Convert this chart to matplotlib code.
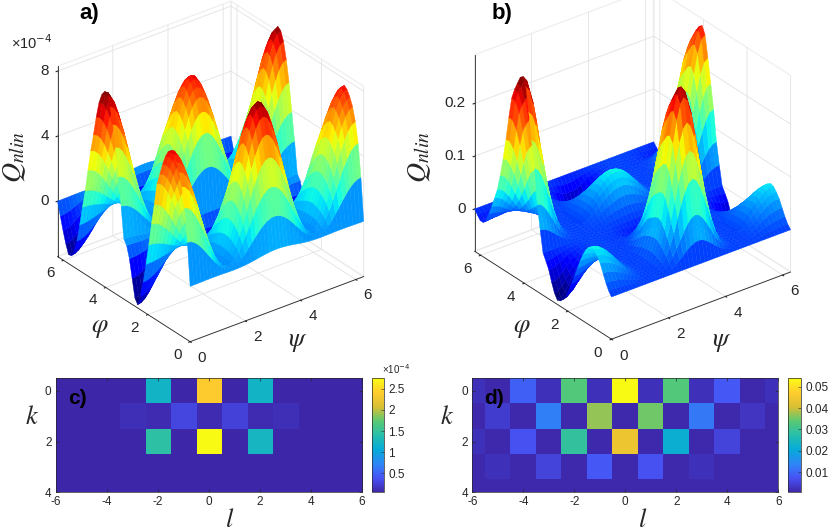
import numpy as np
import matplotlib
matplotlib.use("Agg")
import matplotlib.pyplot as plt
from matplotlib.colors import LinearSegmentedColormap, Normalize

plt.rcParams['font.family'] = ['Liberation Sans', 'DejaVu Sans']
plt.rcParams['mathtext.fontset'] = 'stix'

W, H = 830, 532
INK = '#262626'

# Q along the psi = 0 edge, every 7.5 degrees of phi
edge_a = [0, 2.6, 4.6, 5.8, 6.6, 7.1, 7.45, 7.6, 7.4, 7.0, 6.4, 5.7, 5.0, 3.6, 2.3, 0.9, -0.4,
          -1.6, -2.6, -3.2, -2.9, -1.8, -0.7, 0, 0.3, 2.2, 3.9, 5.6, 6.9, 7.9, 8.45, 8.6, 8.3,
          7.7, 6.7, 5.5, 4.4, 3.1, 1.7, 0.6, -0.6, -1.7, -2.4, -2.8, -2.85, -2.3, -1.6, -0.8, 0]
edge_b = [0, 0.008, 0.02, 0.035, 0.05, 0.06, 0.068, 0.07, 0.066, 0.058, 0.045, 0.03, 0.012, -0.006,
          -0.024, -0.04, -0.054, -0.064, -0.07, -0.072, -0.062, -0.045, -0.025, -0.012, 0, 0.04,
          0.085, 0.15, 0.2, 0.25, 0.295, 0.31, 0.305, 0.29, 0.275, 0.255, 0.215, 0.17, 0.13, 0.095,
          0.065, 0.045, 0.025, 0.008, -0.008, -0.015, -0.015, -0.008, 0]

# how the ridges fade along psi, 0 to pi (same steps), estimated from the peak shapes
fade_a = [1, 0.983, 0.933, 0.854, 0.75, 0.63, 0.5, 0.37, 0.25, 0.146, 0.067, 0.017, 0,
          0.017, 0.067, 0.146, 0.25, 0.37, 0.5, 0.63, 0.75, 0.854, 0.933, 0.983, 1]
fade_b = [1, 0.969, 0.882, 0.752, 0.597, 0.44, 0.296, 0.18, 0.097, 0.044, 0.016, 0.003, 0,
          0.003, 0.016, 0.044, 0.097, 0.18, 0.296, 0.44, 0.597, 0.752, 0.882, 0.969, 1]
swap_a = [1, 0.973, 0.901, 0.789, 0.65, 0.499, 0.354, 0.226, 0.125, 0.056, 0.017, 0.002, 0,
          -0.002, -0.017, -0.056, -0.125, -0.226, -0.354, -0.499, -0.65, -0.789, -0.901, -0.973, -1]
swap_b = [1, 0.961, 0.853, 0.693, 0.508, 0.329, 0.177, 0.069, 0.008, -0.015, -0.014, -0.005, 0,
          0.005, 0.014, 0.015, -0.008, -0.069, -0.177, -0.329, -0.508, -0.693, -0.853, -0.961, -1]
# far peak of panel b stands lower than the near one, last quarter of psi
far_b = [1, 1, 0.995, 0.99, 0.98, 0.97, 0.96, 0.95, 0.94, 0.93, 0.92, 0.91, 0.9]

# mode amplitudes, rows k = 0..4, columns l = -6..6
modes_c = [[.05, .05, .05, .05, 1.2, .05, 2.4, .05, 1.2, .05, .05, .05, .05],
           [.05, .05, .05, .12, .1, .3, .1, .27, .1, .12, .05, .05, .05],
           [.05, .05, .05, .05, 1.45, .05, 2.75, .05, 1.25, .05, .05, .05, .05],
           [.05, .05, .05, .05, .05, .05, .05, .05, .05, .05, .05, .05, .05],
           [.05, .05, .05, .05, .05, .05, .05, .05, .05, .05, .05, .05, .05]]
modes_d = [[.002, .001, .009, .002, .033, .002, .054, .002, .033, .002, .008, .001, .002],
           [.001, .004, .001, .013, .001, .037, .001, .035, .001, .012, .001, .003, .001],
           [.002, .001, .007, .001, .029, .001, .044, .001, .022, .001, .005, .001, .001],
           [.001, .002, .001, .005, .001, .008, .001, .007, .001, .002, .001, .001, .001],
           [.001, .001, .001, .001, .001, .001, .001, .001, .001, .001, .001, .001, .001]]

parula = LinearSegmentedColormap.from_list('parula', [
    (0.2422, 0.1504, 0.6603), (0.2810, 0.3228, 0.9579), (0.1786, 0.5289, 0.9682),
    (0.02, 0.67, 0.85), (0.15, 0.75, 0.68), (0.35, 0.79, 0.45),
    (0.85, 0.75, 0.2), (1.0, 0.8, 0.18), (0.9769, 0.9839, 0.0805)])


def rect(x0, y0, x1, y1):
    # pixel box (y down) to figure fractions
    return [x0 / W, 1 - y1 / H, (x1 - x0) / W, (y1 - y0) / H]


def surface(edge, fade, swap, box, zoom, zlim, zticks, zfmt, far=None):
    edge = np.array(edge)
    # the picture repeats when phi and psi both move on by pi
    shifted = np.r_[edge[24:], edge[1:25]]
    even = (edge + shifted) / 2
    odd = edge - even
    fade = np.array(fade)
    swap = np.array(swap)
    w = np.r_[fade, fade[1:]]
    v = np.r_[swap, -swap[1:]]
    Z = np.outer(even, w) + np.outer(odd, v)
    if far is not None:
        Z[:, 36:] *= np.array(far)

    grid = np.linspace(0, 2 * np.pi, len(edge))
    X, Y = np.meshgrid(grid, grid)
    ax = fig.add_axes(rect(*box), projection='3d')
    ax.set_proj_type('ortho')
    ax.view_init(elev=29.4, azim=-127.4)
    ax.set_box_aspect((1, 1, 1), zoom=zoom)
    colours = plt.get_cmap('jet')(Normalize(Z.min(), Z.max())(Z))
    # facecolors also colours the facet edges, which hides the seams
    ax.plot_surface(X, Y, Z, facecolors=colours, rcount=49, ccount=49, linewidth=0.3, shade=False)
    ax.set_xlim(0, 2 * np.pi)
    ax.set_ylim(0, 2 * np.pi)
    ax.set_zlim(*zlim)
    ticks = [0, 2, 4, 6]
    ax.set_xticks(ticks)
    ax.set_yticks(ticks)
    ax.set_zticks(zticks)
    ax.patch.set_alpha(0)
    for axis in (ax.xaxis, ax.yaxis, ax.zaxis):
        axis.pane.set_facecolor((1, 1, 1, 0))
        axis.pane.set_edgecolor('#e2e2e2')
        axis.line.set_color(INK)
        axis.line.set_linewidth(0.6)
        axis._axinfo['grid'].update(color='#e2e2e2', linewidth=0.6)
        axis._axinfo['tick'].update(inward_factor=0.1, outward_factor=0.0)
    ax.zaxis.set_ticks_position('upper')
    ax.tick_params(axis='both', width=0.6, color=INK, labelbottom=False, labelleft=False)
    ax.tick_params(axis='z', labelleft=False, labelright=False)

    # tick labels sit off the box in data units, mplot3d's own offset goes the wrong way here
    zr = (zlim[1] - zlim[0]) / 11.7
    kw = dict(fontsize=11, color=INK, ha='center', va='center')
    for t in ticks:
        ax.text(t + 0.2, -0.3, zlim[0] - 0.86 * zr, str(t), **kw)
        ax.text(-0.47, t, zlim[0] - 0.5 * zr, str(t), **kw)
    for t in zticks:
        ax.text(-0.2, 2 * np.pi + 0.15, t, zfmt % t, fontsize=11, color=INK, ha='right', va='center')
    return ax


def heat(modes, box, cbox, vmin, vmax, cticks, clabels):
    ax = fig.add_axes(rect(*box))
    im = ax.imshow(modes, cmap=parula, vmin=vmin, vmax=vmax, aspect='auto',
                   extent=(-6.5, 6.5, 4.5, -0.5), interpolation='nearest')
    ax.set_xlim(-6, 6)
    ax.set_ylim(4, -0.5)
    ax.set_xticks(range(-6, 7, 2))
    ax.set_xticklabels([str(t) for t in range(-6, 7, 2)])
    ax.set_yticks([0, 2, 4])
    ax.tick_params(direction='in', length=2.5, width=0.5, labelsize=8.5, colors=INK, pad=3,
                   top=True, right=True)
    for s in ax.spines.values():
        s.set_linewidth(0.5)
        s.set_color(INK)
    cax = fig.add_axes(rect(*cbox))
    cb = fig.colorbar(im, cax=cax)
    cb.set_ticks(cticks)
    cb.set_ticklabels(clabels)
    cb.ax.tick_params(direction='in', length=2, width=0.4, labelsize=8.5, colors=INK, pad=3)
    cb.outline.set_linewidth(0.5)
    cb.outline.set_edgecolor(INK)


fig = plt.figure(figsize=(W / 100, H / 100), dpi=100)

surface(edge_a, fade_a, swap_a, (6, 6, 406, 346), 1.08, (-3.4, 8.3), [0, 4, 8], '%d')
surface(edge_b, fade_b, swap_b, (428, -2, 828, 338), 1.115, (-0.08, 0.292), [0, 0.1, 0.2], '%g', far=far_b)

heat(modes_c, (55.7, 378.3, 361.7, 492.3), (371.7, 378.3, 384.3, 492.3), 0.05, 2.75,
     [0.5, 1, 1.5, 2, 2.5], ['0.5', '1', '1.5', '2', '2.5'])
heat(modes_d, (472.3, 378.3, 778.3, 492.3), (788.3, 378.3, 801, 492.3), 0.0005, 0.054,
     [0.01, 0.02, 0.03, 0.04, 0.05], ['0.01', '0.02', '0.03', '0.04', '0.05'])


def put(x, y, s, **kw):
    fig.text(x / W, 1 - y / H, s, ha='center', va='center', **kw)


put(89, 14, 'a)', fontsize=16, fontweight='bold', color='black')
put(502, 14, 'b)', fontsize=16, fontweight='bold', color='black')
put(77, 398, 'c)', fontsize=15, fontweight='bold', color='black')
put(494, 398, 'd)', fontsize=15, fontweight='bold', color='black')
put(32, 43, '×10$^{-4}$', fontsize=10.5, color=INK, math_fontfamily='dejavusans')
put(396, 369, '×10$^{-4}$', fontsize=7, color=INK, math_fontfamily='dejavusans')
put(15, 157, r'$Q_{nlin}$', fontsize=20, rotation=90, color=INK)
put(420, 157, r'$Q_{nlin}$', fontsize=20, rotation=90, color=INK)
put(100, 328, r'$\varphi$', fontsize=19, color=INK)
put(522, 328, r'$\varphi$', fontsize=19, color=INK)
put(298, 342, r'$\psi$', fontsize=19, color=INK)
put(722, 342, r'$\psi$', fontsize=19, color=INK)
put(32, 417, r'$k$', fontsize=19, color=INK)
put(447, 417, r'$k$', fontsize=19, color=INK)
put(230, 520, r'$l$', fontsize=19, color=INK)
put(643, 520, r'$l$', fontsize=19, color=INK)

fig.savefig('out.png', dpi=100)
